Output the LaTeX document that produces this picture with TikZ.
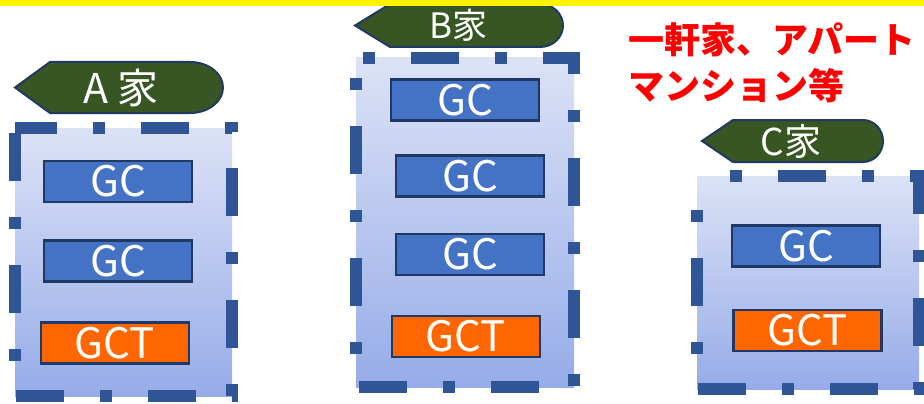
\documentclass[tikz,border=0pt]{standalone}
\usepackage{fontspec}
\setmainfont{Noto Sans CJK JP}
\definecolor{dashblue}{RGB}{47,85,151}
\definecolor{filltop}{RGB}{220,226,246}
\definecolor{fillbot}{RGB}{150,172,233}
\definecolor{taggreen}{RGB}{55,86,35}
\definecolor{navy}{RGB}{31,56,100}
\definecolor{gcblue}{RGB}{68,114,196}
\definecolor{gctorange}{RGB}{255,102,0}
\definecolor{notered}{RGB}{255,0,0}
\tikzset{
  house/.style={minimum width=#1, inner sep=0pt, draw=none, top color=filltop, bottom color=fillbot},
  housedash/.style={draw=dashblue, line width=11.5pt, line cap=butt, line join=miter,
     dash pattern=on 48pt off 36pt on 12pt off 36pt},
  tagshape/.style={fill=taggreen, draw=navy, line width=2pt},
  tagtext/.style={text=white, inner sep=0pt},
  gcbox/.style={draw=navy, line width=2.5pt, fill=gcblue, text=white, minimum width=148pt,
     minimum height=41pt, inner sep=0pt, font=\fontsize{42}{42}\selectfont},
  gctbox/.style={gcbox, fill=gctorange},
  note/.style={text=notered, inner sep=0pt, anchor=west, font=\fontsize{36}{36}\selectfont\bfseries}
}
\begin{document}
\begin{tikzpicture}[x=1pt,y=-1pt]
\useasboundingbox (0,0) rectangle (924,404);
\begin{scope}
\clip (0,0) rectangle (924,404);
% house A
\node[house=217pt, minimum height=268pt] (hA) at (123.5,262) {};
\draw[housedash, dash phase=6pt] (hA.north west) -- (hA.north east) -- (hA.south east) -- (hA.south west) -- cycle;
% house B
\node[house=218pt, minimum height=329pt] (hB) at (465,222.5) {};
\draw[housedash, dash phase=77pt] (hB.north west) -- (hB.north east) -- (hB.south east) -- (hB.south west) -- cycle;
% house C
\node[house=222pt, minimum height=213pt] (hC) at (808,282.5) {};
\draw[housedash, dash phase=51pt] (hC.north west) -- (hC.north east) -- (hC.south east) -- (hC.south west) -- cycle;

% tags
\draw[tagshape] (15,87.5) -- (50,62) -- (190,62) arc[start angle=90,end angle=-90,x radius=33pt,y radius=25.5pt] -- (50,113) -- cycle;
\node[tagtext, font=\fontsize{41}{41}\selectfont] (tA) at (121,88) {A 家};
\draw[tagshape] (355,25.5) -- (390,4) -- (540,4) arc[start angle=90,end angle=-90,x radius=23pt,y radius=21.5pt] -- (390,47) -- cycle;
\node[tagtext, font=\fontsize{35}{35}\selectfont] (tB) at (458,25.5) {B家};
\draw[tagshape] (702,141) -- (733,120) -- (863,120) arc[start angle=90,end angle=-90,x radius=20pt,y radius=21pt] -- (733,162) -- cycle;
\node[tagtext, font=\fontsize{37}{37}\selectfont] (tC) at (791,141) {C家};

% inner boxes A
\node[gcbox] (a1) at (118,181.5) {GC};
\node[gcbox] (a2) at (118,261) {GC};
\node[gctbox] (a3) at (115,343) {GCT};
% inner boxes B
\node[gcbox] (b1) at (465,100) {GC};
\node[gcbox] (b2) at (470,176) {GC};
\node[gcbox] (b3) at (470,254.5) {GC};
\node[gctbox] (b4) at (466,336.5) {GCT};
% inner boxes C
\node[gcbox] (c1) at (806,246) {GC};
\node[gctbox] (c2) at (807.5,330.5) {GCT};

% note
\node[note] (n1) at (628,40) {一軒家、アパート};
\node[note] (n2) at (628,86) {マンション等};

% yellow band
\fill[yellow] (0,0) rectangle (924,6);
\end{scope}
\end{tikzpicture}
\end{document}
